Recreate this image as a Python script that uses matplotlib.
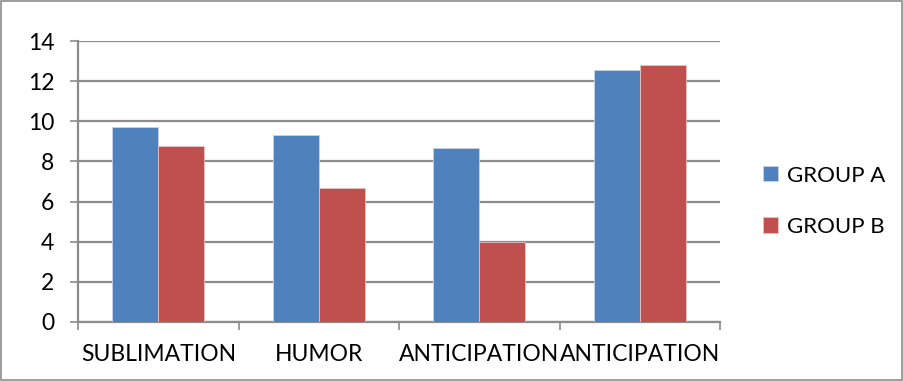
import numpy as np
import matplotlib.pyplot as plt
from matplotlib.patches import Rectangle

categories = ['SUBLIMATION', 'HUMOR', 'ANTICIPATION', 'ANTICIPATION']
group_a = [9.73, 9.32, 8.65, 12.57]
group_b = [8.77, 6.68, 3.99, 12.82]
series_names = ['GROUP A', 'GROUP B']

blue = '#4f81bd'
red = '#c0504d'
grid_col = '#8c8c8c'

plt.rcParams['font.family'] = ['Lato', 'DejaVu Sans']

fig = plt.figure(figsize=(9.04, 3.81), dpi=100)
ax = fig.add_axes([0.0863, 0.155, 0.7102, 0.737])

x = np.arange(len(categories))
w = 0.287
ax.bar(x - w / 2, group_a, w, color=blue, edgecolor='#c6d5ea', linewidth=0.6, label=series_names[0], zorder=3)
ax.bar(x + w / 2, group_b, w, color=red, edgecolor='#e8c2c1', linewidth=0.6, label=series_names[1], zorder=3)

ax.set_xlim(-0.5, len(categories) - 0.5)
ax.set_ylim(0, 14)
ax.set_yticks(range(0, 15, 2))
ax.yaxis.grid(True, color=grid_col, linewidth=1.6, zorder=0)
ax.set_axisbelow(True)

for s in ['top', 'right']:
    ax.spines[s].set_visible(False)
ax.spines['left'].set_color(grid_col)
ax.spines['left'].set_linewidth(1.6)
ax.spines['bottom'].set_color(grid_col)
ax.spines['bottom'].set_linewidth(1.6)

# category labels sit between boundary ticks
ax.set_xticks(x)
ax.set_xticklabels(categories, fontsize=16.5)
ax.set_xticks(np.arange(-0.5, len(categories)), minor=True)
ax.tick_params(axis='x', which='major', length=0, pad=16)
ax.tick_params(axis='x', which='minor', length=6, width=1.2, color=grid_col)
ax.tick_params(axis='y', length=6, width=1.2, color=grid_col, labelsize=16.5, pad=11)

ax.legend(loc='center left', bbox_to_anchor=(1.067, 0.43), frameon=False,
          fontsize=16, handlelength=0.68, handleheight=0.68, labelspacing=1.4,
          handletextpad=0.4, borderpad=0, borderaxespad=0)

fig.add_artist(Rectangle((0.001, 0.002), 0.997, 0.995, transform=fig.transFigure,
                         fill=False, edgecolor='#8c8c8c', linewidth=1.2))

fig.savefig('out.png', dpi=100)
